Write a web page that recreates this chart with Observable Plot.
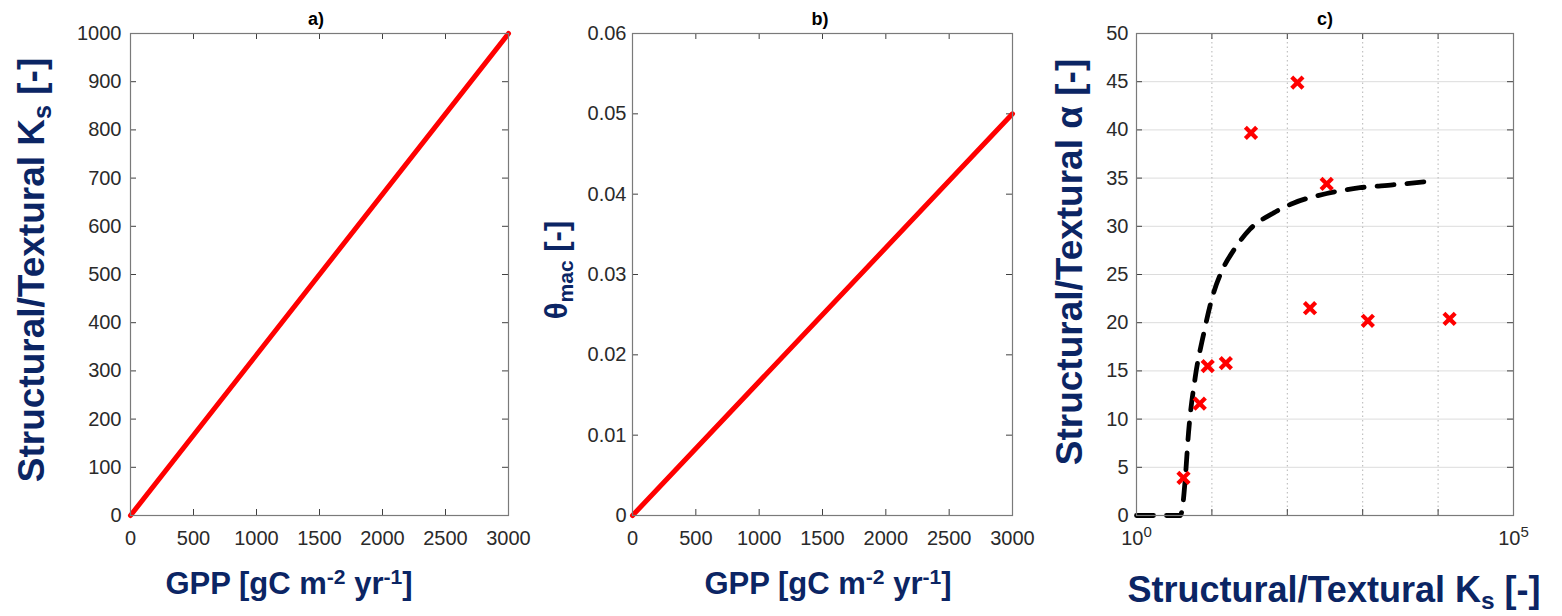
<!DOCTYPE html>
<html><head><meta charset="utf-8">
<script src="https://cdn.jsdelivr.net/npm/d3@7"></script>
<script src="https://cdn.jsdelivr.net/npm/@observablehq/plot@0.6"></script>
<style>
body{margin:0;background:#fff;}
#wrap{position:relative;width:1562px;height:616px;overflow:hidden;background:#fff;}
#wrap svg{position:absolute;top:0;overflow:visible;}
</style></head><body><div id="wrap"></div>
<script>
// Panel a
const gppA = [0, 3000];
const ksA = [0, 1000];
// Panel b
const gppB = [0, 3000];
const thetaB = [0, 0.05];
// Panel c observations
const ksObs = [4.2, 6.9, 8.8, 15.3, 33, 136, 333, 200, 1170, 14200];
const alphaObs = [3.9, 11.6, 15.5, 15.8, 39.7, 44.9, 34.4, 21.5, 20.2, 20.4];
// Panel c fitted curve
const ksFit = [1, 3.8, 4.1, 4.4, 4.9, 6.0, 7.8, 10, 13.6, 19.4, 32, 66, 120, 333, 920, 2500, 8600];
const alphaFit = [0, 0, 1, 3.5, 8.6, 14.3, 18.9, 22.5, 25.4, 27.5, 29.7, 31.4, 32.4, 33.4, 34.0, 34.3, 34.7];
// ticks
const ticksAx = [0, 500, 1000, 1500, 2000, 2500, 3000];
const ticksAy = [0, 100, 200, 300, 400, 500, 600, 700, 800, 900, 1000];
const ticksBy = [0, 0.01, 0.02, 0.03, 0.04, 0.05, 0.06];
const ticksCy = [0, 5, 10, 15, 20, 25, 30, 35, 40, 45, 50];
const ticksCx = [1, 100000];
const ticksCxExp = ["0", "5"];
const gridCx = [10, 100, 1000, 10000];
const titles = ["a)", "b)", "c)"];

const NAVY = "#0b2564";
const H = 616, MT = 33, MB = 101, PH = H - MT - MB;
const wrap = document.getElementById("wrap");
const plain = d => String(d);

function inwardTicks(xt, yt, PW) {
  const s = {stroke: "#404040", strokeWidth: 1};
  return [
    Plot.tickX(xt, {x: d => d, insetTop: PH - 6, ...s}),
    Plot.tickX(xt, {x: d => d, insetBottom: PH - 6, ...s}),
    Plot.tickY(yt, {y: d => d, insetRight: PW - 6, ...s}),
    Plot.tickY(yt, {y: d => d, insetLeft: PW - 6, ...s})
  ];
}

function make({left, width, ml, mr, x, y, marks, ypad}) {
  const PW = width - ml - mr;
  const svg = Plot.plot({
    width, height: H, marginTop: MT, marginBottom: MB, marginLeft: ml, marginRight: mr,
    style: {fontFamily: "'Liberation Sans', Arial, sans-serif", fontSize: "20px", color: "#2a2a2a", background: "transparent", overflow: "visible"},
    x: {tickSize: 0, tickPadding: 15, label: null, ...x},
    y: {tickSize: 0, tickPadding: ypad, label: null, ...y},
    marks: [
      ...marks(PW),
      Plot.frame({stroke: "#7a7a7a", strokeWidth: 1.2})
    ]
  });
  svg.style.left = left + "px";
  wrap.appendChild(svg);
  return d3.select(svg);
}

function addText(sel, {x, y, rotate, size, parts, fill = NAVY}) {
  const t = sel.append("text")
    .attr("transform", `translate(${x},${y})` + (rotate ? " rotate(-90)" : ""))
    .attr("text-anchor", "middle")
    .attr("font-family", "'Liberation Sans', Arial, sans-serif")
    .attr("font-weight", "bold")
    .attr("font-size", size)
    .attr("fill", fill);
  let shift = 0;
  for (const p of parts) {
    const ts = t.append("tspan").text(p.t);
    let target = 0;
    if (p.sub) target = size * 0.2;
    if (p.sup) target = -size * 0.33;
    if (target !== shift) { ts.attr("dy", target - shift); shift = target; }
    if (p.sub || p.sup) ts.attr("font-size", size * 0.68);
  }
}

// Panel a
const dataA = gppA.map((g, i) => ({g, v: ksA[i]}));
const sa = make({
  left: 0, width: 530, ml: 130, mr: 22, ypad: 9,
  x: {domain: [0, 3000], ticks: ticksAx, tickFormat: plain},
  y: {domain: [0, 1000], ticks: ticksAy, tickFormat: plain},
  marks: PW => [
    ...inwardTicks(ticksAx, ticksAy, PW),
    Plot.line(dataA, {x: "g", y: "v", stroke: "#ff0000", strokeWidth: 5})
  ]
});
addText(sa, {x: 316, y: 25, size: 18, fill: "#000", parts: [{t: titles[0]}]});
addText(sa, {x: 44, y: 270, rotate: true, size: 37, parts: [{t: "Structural/Textural K"}, {t: "s", sub: true}, {t: " [-]"}]});
addText(sa, {x: 289, y: 594, size: 31, parts: [{t: "GPP [gC m"}, {t: "-2", sup: true}, {t: " yr"}, {t: "-1", sup: true}, {t: "]"}]});

// Panel b
const dataB = gppB.map((g, i) => ({g, v: thetaB[i]}));
const sb = make({
  left: 530, width: 500, ml: 102, mr: 18, ypad: 6,
  x: {domain: [0, 3000], ticks: ticksAx, tickFormat: plain},
  y: {domain: [0, 0.06], ticks: ticksBy, tickFormat: d => d === 0 ? "0" : d.toFixed(2)},
  marks: PW => [
    ...inwardTicks(ticksAx, ticksBy, PW),
    Plot.line(dataB, {x: "g", y: "v", stroke: "#ff0000", strokeWidth: 5})
  ]
});
addText(sb, {x: 290, y: 25, size: 18, fill: "#000", parts: [{t: titles[1]}]});
addText(sb, {x: 37, y: 270, rotate: true, size: 31, parts: [{t: "θ"}, {t: "mac", sub: true}, {t: " [-]"}]});
addText(sb, {x: 298, y: 594, size: 31, parts: [{t: "GPP [gC m"}, {t: "-2", sup: true}, {t: " yr"}, {t: "-1", sup: true}, {t: "]"}]});

// Panel c
const obs = ksObs.map((k, i) => ({k, a: alphaObs[i]}));
const fit = ksFit.map((k, i) => ({k, a: alphaFit[i]}));
const sc = make({
  left: 1030, width: 532, ml: 106, mr: 49, ypad: 8,
  x: {type: "log", domain: [1, 100000], ticks: ticksCx, tickFormat: d => "10|" + ticksCxExp[ticksCx.indexOf(d)]},
  y: {domain: [0, 50], ticks: ticksCy, tickFormat: plain},
  marks: PW => [
    Plot.ruleY(ticksCy.slice(1, -1), {y: d => d, stroke: "#dcdcdc", strokeWidth: 1}),
    Plot.ruleX(gridCx, {x: d => d, stroke: "#b5b5b5", strokeWidth: 1, strokeDasharray: "1.5,3"}),
    ...inwardTicks(gridCx, ticksCy, PW),
    Plot.line(fit, {x: "k", y: "a", stroke: "black", strokeWidth: 4.8, strokeDasharray: "17,13", curve: "monotone-x"}),
    Plot.dot(obs, {x: "k", y: "a", symbol: "times", stroke: "#ff0000", strokeWidth: 4.2, r: 5.2})
  ]
});
// render base-10 tick labels with a real superscript exponent
sc.selectAll("text").each(function() {
  const el = d3.select(this);
  const s = el.text();
  if (/^10\|\d$/.test(s)) {
    const [base, exp] = s.split("|");
    el.text(base);
    el.append("tspan").attr("dy", -8).attr("font-size", 15).text(exp);
  }
});
addText(sc, {x: 295, y: 25, size: 18, fill: "#000", parts: [{t: titles[2]}]});
addText(sc, {x: 52, y: 262, rotate: true, size: 37, parts: [{t: "Structural/Textural α [-]"}]});
addText(sc, {x: 304, y: 602, size: 36, parts: [{t: "Structural/Textural K"}, {t: "s", sub: true}, {t: " [-]"}]});
</script></body></html>
